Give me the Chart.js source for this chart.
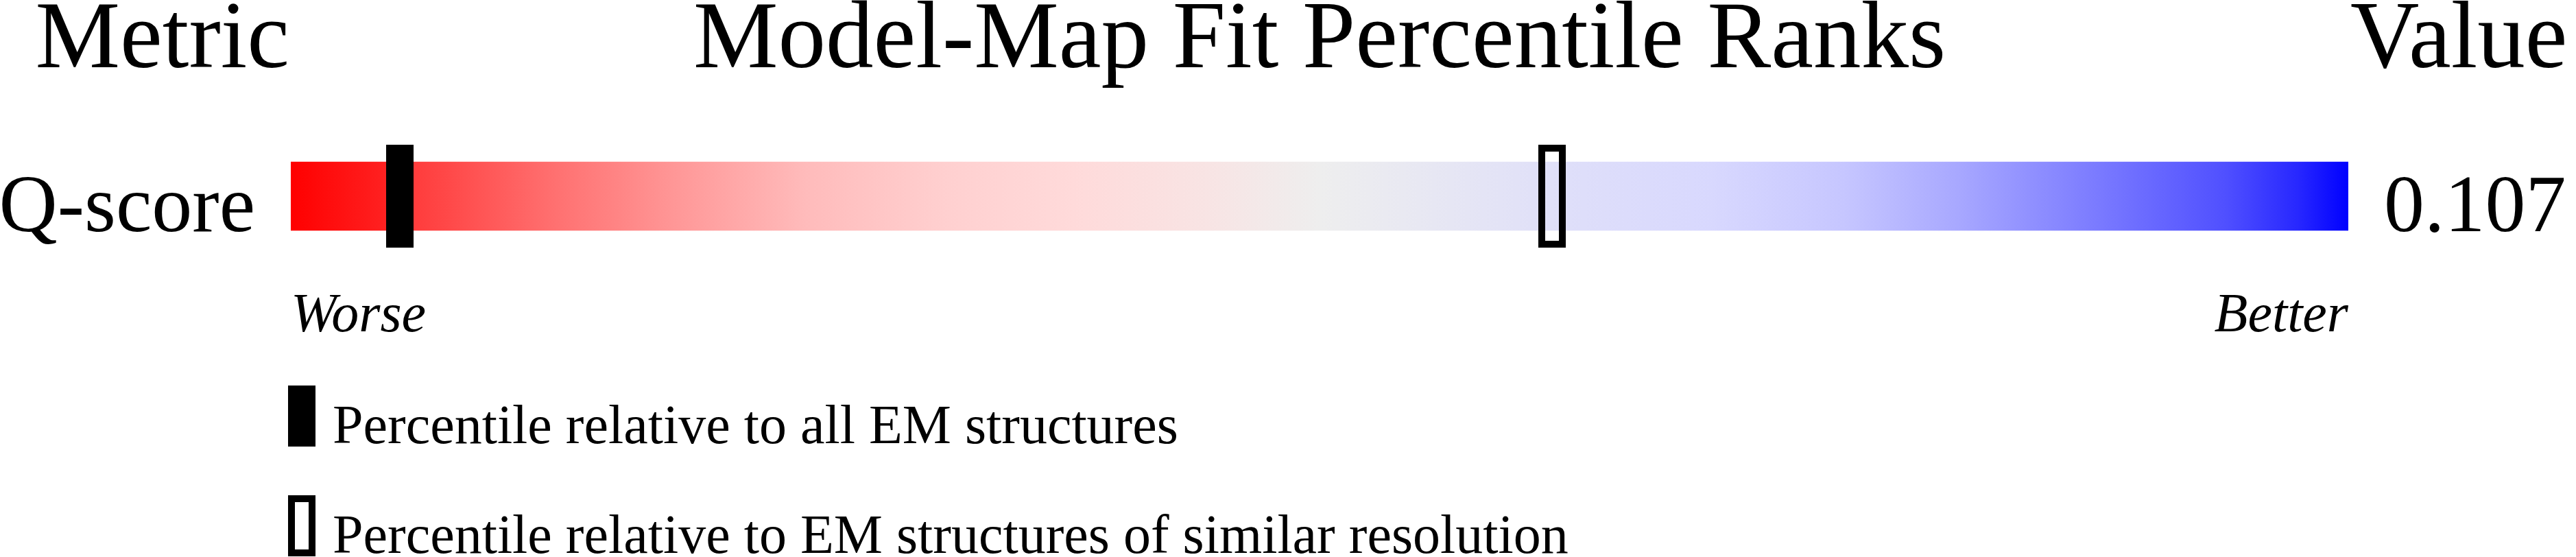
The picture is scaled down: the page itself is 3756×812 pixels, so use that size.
<!DOCTYPE html>
<html>
<head>
<meta charset="utf-8">
<script src="https://cdn.jsdelivr.net/npm/chart.js@4.4.1/dist/chart.umd.min.js"></script>
<style>
  html, body { margin: 0; padding: 0; background: #ffffff; }
  #wrap { width: 3756px; height: 812px; position: relative; }
</style>
</head>
<body>
<div id="wrap"><canvas id="c"></canvas></div>
<script>
// ---- data ----
const metricNames = ['Q-score'];
const metricValues = ['0.107'];
const pctAll = [5.3];
const pctSimilar = [61.3];
const rankRange = [0, 100];
const axisEndLabels = ['Worse', 'Better'];
const seriesLabels = ['Percentile relative to all EM structures',
                      'Percentile relative to EM structures of similar resolution'];
const headerTexts = ['Metric', 'Model-Map Fit Percentile Ranks', 'Value'];

// ---- styles ----
const SERIF = '"Liberation Serif", "Times New Roman", Times, serif';
const gradientStops = [
  [0.000, '#ff0000'], [0.045, '#ff2020'], [0.060, '#ff3c3c'], [0.128, '#ff7070'],
  [0.190, '#ff9999'], [0.250, '#ffbbbb'], [0.320, '#ffd0d0'], [0.380, '#ffdada'],
  [0.446, '#f8e4e4'], [0.500, '#eeeeee'], [0.564, '#e6e6f4'], [0.628, '#dedefa'],
  [0.691, '#d8d8fe'], [0.755, '#c6c6ff'], [0.810, '#a8a8ff'], [0.870, '#8080ff'],
  [0.940, '#5050ff'], [0.975, '#2828ff'], [1.000, '#0000ff']
];

function makeMarker(w, h, filled, lw) {
  const cv = document.createElement('canvas');
  cv.width = w; cv.height = h;
  const g = cv.getContext('2d');
  g.fillStyle = '#000';
  if (filled) {
    g.fillRect(0, 0, w, h);
  } else {
    g.lineWidth = lw;
    g.strokeStyle = '#000';
    g.strokeRect(lw / 2, lw / 2, w - lw, h - lw);
  }
  return cv;
}
const markerFilled = makeMarker(40, 150, true, 0);
const markerHollow = makeMarker(40, 150, false, 10);
const legendFilled = makeMarker(40, 89, true, 0);
const legendHollow = makeMarker(40, 89, false, 10);

function barGradient(context) {
  const chart = context.chart;
  const xs = chart.scales.x;
  if (!chart.chartArea || !xs) return '#eeeeee';
  const x0 = xs.getPixelForValue(rankRange[0]);
  const x1 = xs.getPixelForValue(rankRange[1]);
  const g = chart.ctx.createLinearGradient(x0, 0, x1, 0);
  gradientStops.forEach(s => g.addColorStop(s[0], s[1]));
  return g;
}

const textPlugin = {
  id: 'textPlugin',
  afterDraw(chart) {
    const ctx = chart.ctx;
    const ca = chart.chartArea;
    const ys = chart.scales.y;
    ctx.save();
    ctx.fillStyle = '#000';
    ctx.textBaseline = 'alphabetic';
    // headers
    ctx.font = 'normal 139px ' + SERIF;
    const hy = ca.top - 113;
    ctx.textAlign = 'right';
    ctx.fillText(headerTexts[0], ca.left - 2, hy);
    ctx.textAlign = 'center';
    ctx.fillText(headerTexts[1], (ca.left + ca.right) / 2, hy);
    ctx.textAlign = 'left';
    ctx.fillText(headerTexts[2], ca.right + 3, hy);
    // row labels and values
    ctx.font = 'normal 118px ' + SERIF;
    metricNames.forEach((m, i) => {
      const py = ys.getPixelForValue(i) + 51;
      ctx.textAlign = 'right';
      ctx.fillText(m, ca.left - 52, py);
      ctx.textAlign = 'left';
      ctx.fillText(metricValues[i], ca.right + 52, py);
    });
    // legend
    ctx.font = 'normal 80px ' + SERIF;
    ctx.textAlign = 'left';
    const icons = [legendFilled, legendHollow];
    seriesLabels.forEach((lab, i) => {
      const top = ca.bottom + 201 + i * 160;
      ctx.drawImage(icons[i], ca.left - 4, top);
      ctx.fillText(lab, ca.left + 61, top + 84);
    });
    ctx.restore();
  }
};

new Chart(document.getElementById('c'), {
  type: 'bar',
  data: {
    labels: metricNames,
    datasets: [
      {
        type: 'bar',
        label: 'range',
        data: metricNames.map(() => rankRange.slice()),
        backgroundColor: barGradient,
        borderWidth: 0,
        borderSkipped: false,
        barThickness: 100,
        order: 3
      },
      {
        type: 'scatter',
        label: seriesLabels[0],
        data: metricNames.map((m, i) => ({ x: pctAll[i], y: m })),
        pointStyle: markerFilled,
        pointRadius: 20,
        clip: false,
        order: 0
      },
      {
        type: 'scatter',
        label: seriesLabels[1],
        data: metricNames.map((m, i) => ({ x: pctSimilar[i], y: m })),
        pointStyle: markerHollow,
        pointRadius: 20,
        clip: false,
        order: 1
      }
    ]
  },
  options: {
    indexAxis: 'y',
    responsive: true,
    maintainAspectRatio: false,
    devicePixelRatio: 1,
    animation: false,
    events: [],
    layout: { padding: { top: 211, bottom: 301, left: 424, right: 332 } },
    plugins: {
      legend: { display: false },
      tooltip: { enabled: false },
      title: { display: false }
    },
    scales: {
      x: {
        type: 'linear',
        position: 'bottom',
        min: rankRange[0],
        max: rankRange[1],
        grid: { display: false, drawTicks: false },
        border: { display: false },
        ticks: {
          stepSize: 100,
          autoSkip: false,
          maxRotation: 0,
          align: 'inner',
          padding: 53,
          color: '#000',
          font: { family: SERIF, size: 80, style: 'italic', lineHeight: 1.2 },
          callback: (v) => v === rankRange[0] ? axisEndLabels[0] : (v === rankRange[1] ? axisEndLabels[1] : '')
        },
        afterFit: (s) => { s.height = 150; }
      },
      y: {
        type: 'category',
        display: false,
        offset: true
      }
    }
  },
  plugins: [textPlugin]
});
</script>
</body>
</html>
